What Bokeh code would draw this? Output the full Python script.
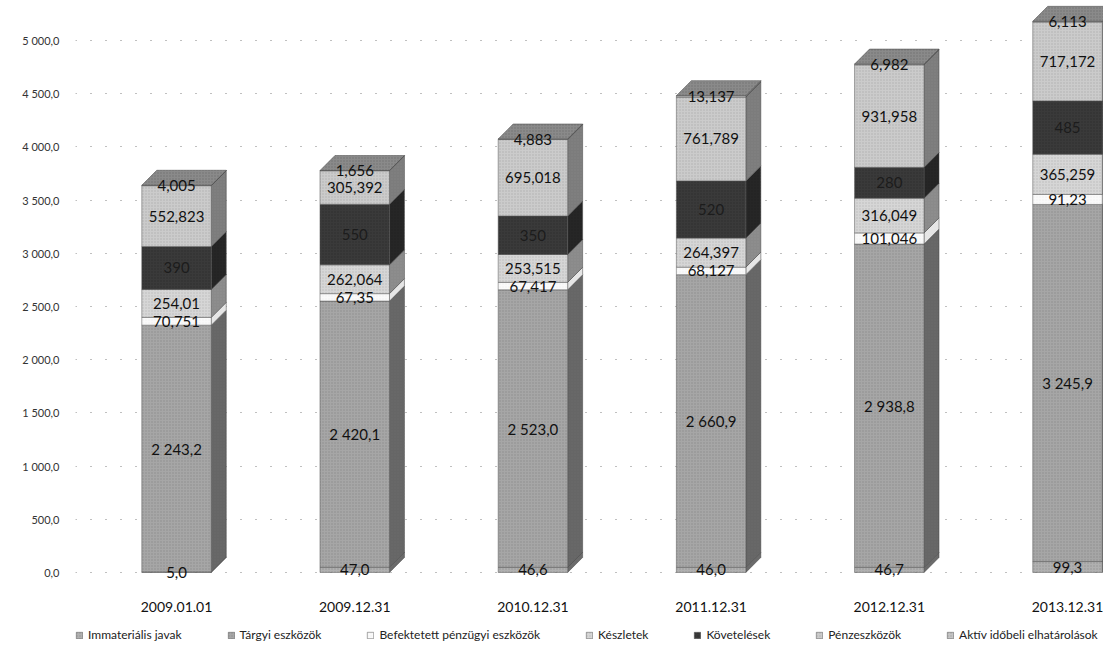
from bokeh.plotting import figure
from bokeh.models import Range1d, FixedTicker, Legend, LegendItem
from bokeh.core.properties import value
from bokeh.embed import file_html
from bokeh.resources import INLINE

# ---------------- data ----------------
categories = ["2009.01.01", "2009.12.31", "2010.12.31", "2011.12.31", "2012.12.31", "2013.12.31"]
immaterialis = [5.0, 47.0, 46.6, 46.0, 46.7, 99.3]
targyi = [2243.2, 2420.1, 2523.0, 2660.9, 2938.8, 3245.9]
befektetett = [70.751, 67.35, 67.417, 68.127, 101.046, 91.23]
keszletek = [254.01, 262.064, 253.515, 264.397, 316.049, 365.259]
kovetelesek = [390.0, 550.0, 350.0, 520.0, 280.0, 485.0]  # estimated (labels unreadable)
penzeszkozok = [552.823, 305.392, 695.018, 761.789, 931.958, 717.172]
aktiv = [4.005, 1.656, 4.883, 13.137, 6.982, 6.113]
series_names = ["Immateriális javak", "Tárgyi eszközök", "Befektetett pénzügyi eszközök",
                "Készletek", "Követelések", "Pénzeszközök", "Aktív időbeli elhatárolások"]
y_ticks = list(range(0, 5001, 500))

series = [immaterialis, targyi, befektetett, keszletek, kovetelesek, penzeszkozok, aktiv]
front_colors = ["#b0b0b0", "#a6a6a6", "#fafafa", "#d6d6d6", "#3a3a3a", "#cbcbcb", "#c4c4c4"]
side_colors = ["#6a6a6a", "#666666", "#e6e6e6", "#8a8a8a", "#262626", "#7c7c7c", "#6a6a6a"]
hatch_colors = ["#707070", "#6e6e6e", "#e0e0e0", "#9a9a9a", "#1a1a1a", "#8c8c8c", "#7a7a7a"]


def hu1(v):
    s = f"{v:,.1f}"
    return s.replace(",", " ").replace(".", ",")


def hu3(v):
    s = f"{v:.3f}".rstrip("0").rstrip(".")
    return s.replace(".", ",")


FONT = "Lato"
W = 0.39        # front face width (x units)
DX = 0.084      # depth in x
DY = 141.0      # depth in y
PERSP = 1.034   # front faces appear slightly larger than the back-wall scale
PX_PER_UNIT = 654 / (5376 + 771)

p = figure(frame_width=1028, frame_height=654, output_backend="svg", toolbar_location=None,
           x_range=Range1d(-0.567, 5.202), y_range=Range1d(-771, 5376),
           x_axis_location=None, y_axis_location="left",
           min_border_left=75, min_border_right=0, min_border_top=0, min_border_bottom=0,
           outline_line_color=None)
p.background_fill_color = "white"
p.border_fill_color = "white"

# grid
p.xgrid.grid_line_color = None
p.ygrid.ticker = FixedTicker(ticks=y_ticks)
p.ygrid.grid_line_color = "#808080"
p.ygrid.grid_line_dash = "1 14"
p.ygrid.grid_line_width = 1

# y axis
p.yaxis.ticker = FixedTicker(ticks=y_ticks)
p.yaxis.major_label_overrides = {t: hu1(float(t)) for t in y_ticks}
p.yaxis.axis_line_color = None
p.yaxis.major_tick_line_color = None
p.yaxis.minor_tick_line_color = None
p.yaxis.major_label_text_font = FONT
p.yaxis.major_label_text_font_size = "11px"
p.yaxis.major_label_text_color = "#333333"
p.yaxis.major_label_standoff = 10

xs_pos = list(range(len(categories)))

# category labels (drawn as text below the bars)
p.text(x=xs_pos, y=[-35 / PX_PER_UNIT] * len(xs_pos), text=categories,
       text_align="center", text_baseline="middle", text_font=value(FONT),
       text_font_size="14px", text_color="#111111")

# geometry from data
bottoms = [0.0] * len(categories)
seg = []
for vals in series:
    s = []
    for i, v in enumerate(vals):
        s.append((bottoms[i] * PERSP, (bottoms[i] + v) * PERSP))
        bottoms[i] += v
    seg.append(s)

legend_items = []
for k, vals in enumerate(series):
    sx, sy = [], []
    for i in xs_pos:
        b, t = seg[k][i]
        r = i + W / 2
        sx.append([r, r + DX, r + DX, r])
        sy.append([b, b + DY, t + DY, t])
    p.patches(sx, sy, fill_color=side_colors[k], line_color="#444444", line_width=0.5,
              hatch_pattern="dot", hatch_color=hatch_colors[k], hatch_alpha=0.5, hatch_scale=3)
    r_front = p.quad(left=[i - W / 2 for i in xs_pos], right=[i + W / 2 for i in xs_pos],
                     bottom=[seg[k][i][0] for i in xs_pos], top=[seg[k][i][1] for i in xs_pos],
                     fill_color=front_colors[k], line_color="#555555", line_width=0.5,
                     hatch_pattern="dot", hatch_color=hatch_colors[k], hatch_alpha=0.45, hatch_scale=3)
    legend_items.append(LegendItem(label=series_names[k], renderers=[r_front]))

tx, ty = [], []
for i in xs_pos:
    t = bottoms[i] * PERSP
    tx.append([i - W / 2, i + W / 2, i + W / 2 + DX, i - W / 2 + DX])
    ty.append([t, t, t + DY, t + DY])
p.patches(tx, ty, fill_color="#8a8a8a", line_color="#444444", line_width=0.5,
          hatch_pattern="dot", hatch_color="#555555", hatch_alpha=0.5, hatch_scale=3)

for k, vals in enumerate(series):
    fmt = hu1 if k < 2 else hu3
    lx, ly, lt = [], [], []
    for i in xs_pos:
        b, t = seg[k][i]
        lx.append(i)
        ly.append((b + t) / 2)
        lt.append(fmt(vals[i]))
    color = "#1c1c1c" if k == 4 else "#111111"
    p.text(x=lx, y=ly, text=lt, text_align="center", text_baseline="middle",
           text_font=value(FONT), text_font_size="15px", text_color=color)

legend = Legend(items=legend_items, orientation="horizontal", location=(0, 12),
                border_line_color=None, background_fill_alpha=0,
                label_text_font=FONT, label_text_font_size="12px", label_text_color="#222222",
                glyph_width=8, glyph_height=8, spacing=45, padding=0, margin=0,
                label_standoff=5, label_height=12)
p.add_layout(legend, "center")

open("out.html", "w").write(file_html(p, INLINE))
